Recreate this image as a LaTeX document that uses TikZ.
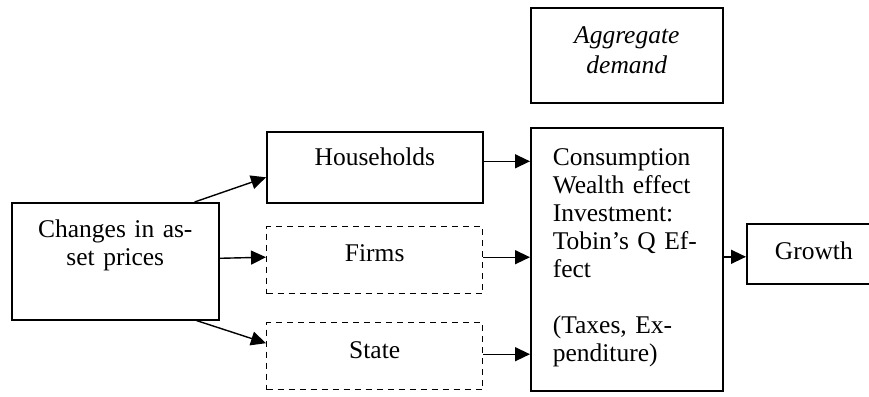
\documentclass[tikz,border=0pt]{standalone}
\usepackage{fontspec}
\setmainfont{Liberation Serif}
\usetikzlibrary{arrows.meta}

\begin{document}
\begin{tikzpicture}[x=1pt,y=-1pt,
    box/.style={draw, line width=1.6pt, inner sep=0pt, anchor=north west, align=center,
        font=\fontsize{25.5}{28}\selectfont},
    dbox/.style={box, line width=1.4pt, dash pattern=on 6pt off 5pt},
    arr/.style={-{Triangle[length=15pt,width=14pt]}, line width=1.4pt}]
                \useasboundingbox (0,0) rectangle (869,396);
                \node[box, text width=207pt, text height=35pt, text depth=82pt] (changes) at (11,202) {Changes in as-\\set prices};
                \node[box, text width=216pt, text height=34pt, text depth=37pt] (households) at (266,131) {Households};
                \node[dbox, text width=216pt, text height=35pt, text depth=32pt] (firms) at (266,226) {Firms};
                \node[dbox, text width=216pt, text height=36pt, text depth=31pt] (state) at (266,322) {State};
                \node[box, text width=192pt, text height=36pt, text depth=59pt,
                    font=\fontsize{25.5}{30}\selectfont\itshape] (aggregate) at (530,7) {Aggregate\\demand};
                \node[box, align=left, inner xsep=22pt, text width=148pt, text height=38pt, text depth=225pt] (consumption) at (530,127)
                    {Consumption\\Wealth effect\\Investment:\\Tobin’s Q Ef-\\fect\\[28pt](Taxes, Ex-\\penditure)};
                \node[box, text width=134pt, text height=36pt, text depth=24pt] (growth) at (746,223) {Growth};
                
                \draw[arr] ([xshift=-25pt]changes.north east) to ([yshift=-10pt]households.west);
                \draw[arr] ([yshift=3pt]changes.east) to ([yshift=3pt]firms.west);
                \draw[arr] ([xshift=-23pt]changes.south east) to ([yshift=13pt]state.west);
                \draw[arr] ([yshift=6pt]households.east) to ([yshift=6pt]households.east -| consumption.west);
                \draw[arr] ([yshift=3pt]firms.east) to ([yshift=3pt]firms.east -| consumption.west);
                \draw[arr] ([yshift=2pt]state.east) to ([yshift=2pt]state.east -| consumption.west);
                \draw[arr] ([yshift=-3pt]growth.west -| consumption.east) to ([yshift=-3pt]growth.west);
            \end{tikzpicture}
\end{document}
